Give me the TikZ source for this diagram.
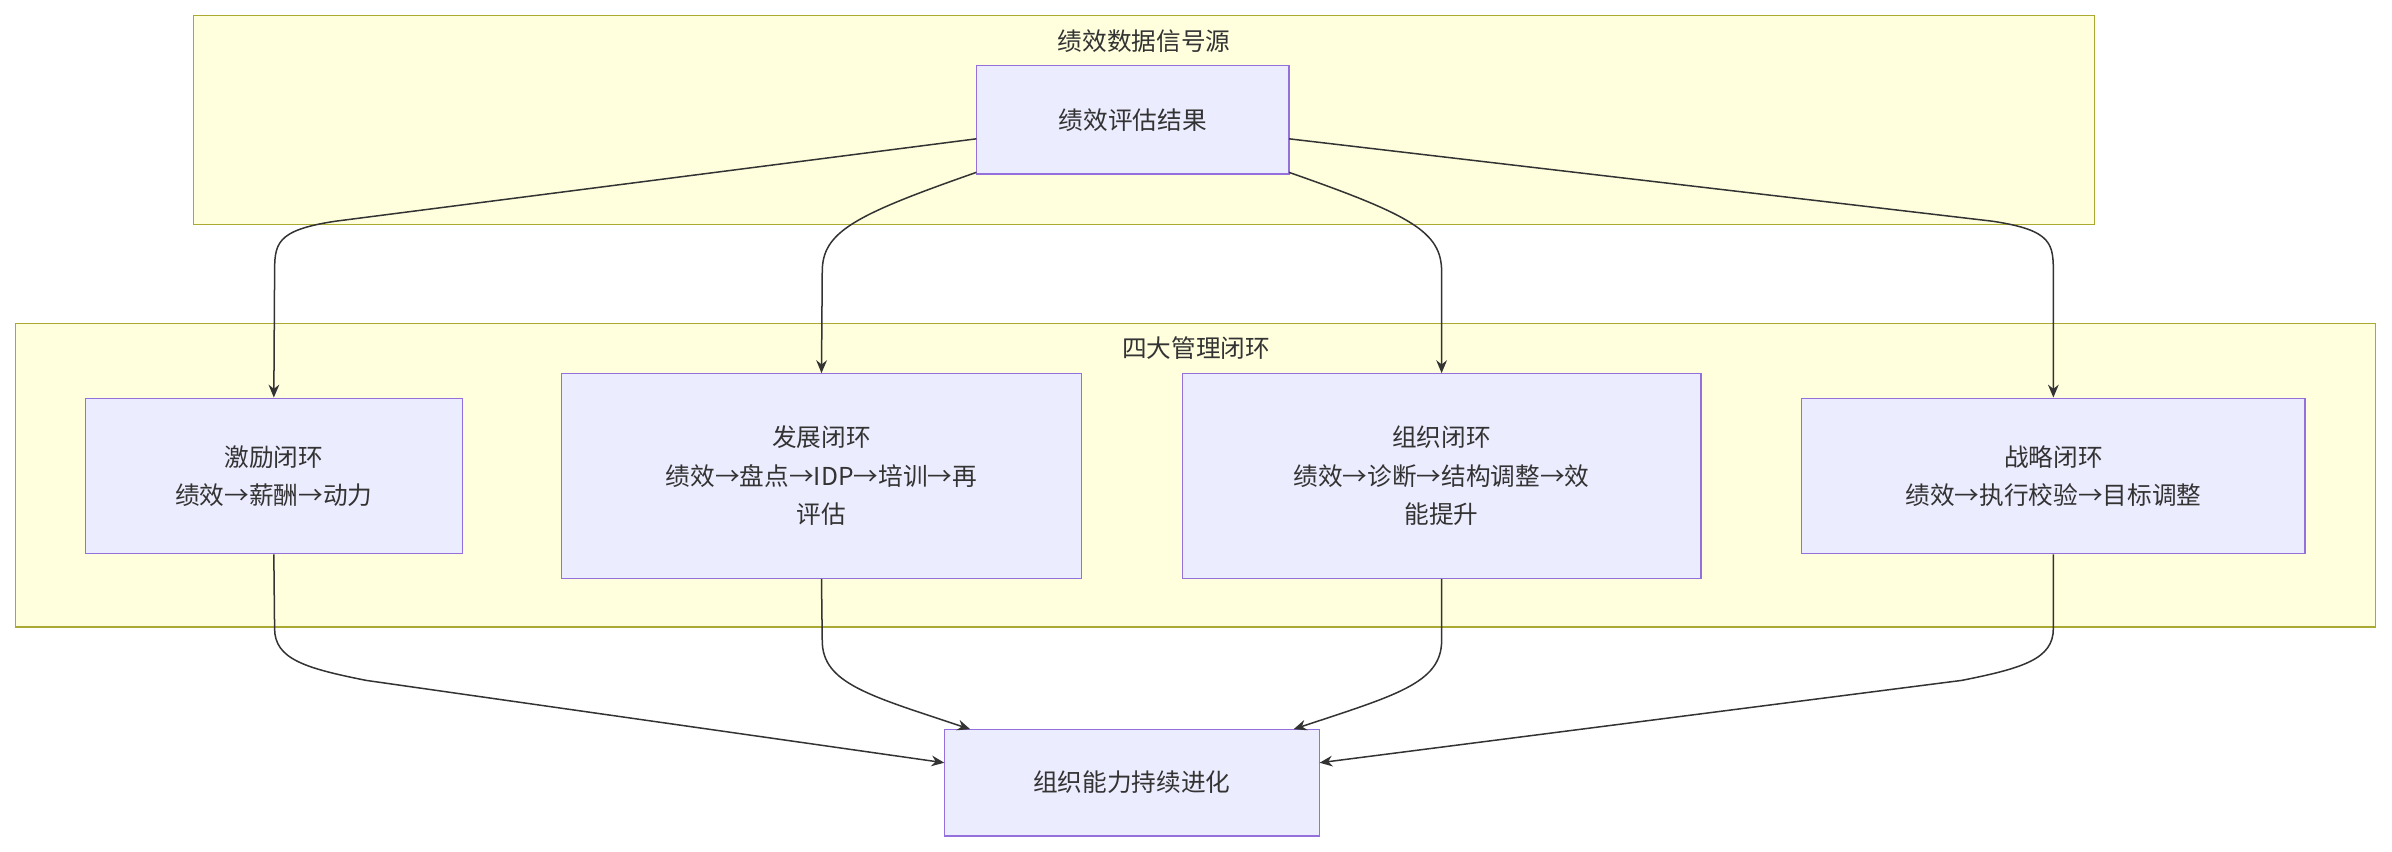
\documentclass[tikz,border=0pt]{standalone}
\usepackage{fontspec}
\setmainfont{Noto Sans CJK SC}
\usetikzlibrary{arrows.meta}
\definecolor{cf}{HTML}{FFFFDE}\definecolor{cs}{HTML}{AAAA33}
\definecolor{nf}{HTML}{ECECFF}\definecolor{ns}{HTML}{9370DB}
\definecolor{ec}{HTML}{333333}
\begin{document}
\begin{tikzpicture}[x=0.05cm,y=-0.05cm,
 cl/.style={draw=cs,fill=cf,line width=1.2pt},
 nd/.style={draw=ns,fill=nf,line width=1.2pt,align=center,font=\fontsize{23}{36}\selectfont,text=ec,inner sep=0},
 tl/.style={font=\fontsize{23}{30}\selectfont,text=ec},
 ed/.style={draw=ec,line width=1.4pt,-{Stealth[length=12pt,width=10pt]}}]
\useasboundingbox (0,0) rectangle (1568,558);
\draw[cl] (127,10) rectangle (1373,147);
\node[tl] (t1) at (750,27) {绩效数据信号源};
\draw[cl] (10,212) rectangle (1557,411);
\node[tl] (t2) at (784,228) {四大管理闭环};
\node[nd,minimum width=10.25cm,minimum height=3.55cm] (src) at (742.5,78.5) {绩效评估结果};
\node[nd,minimum width=12.35cm,minimum height=5.1cm] (jl) at (179.5,312) {激励闭环\\绩效→薪酬→动力};
\node[nd,minimum width=17.05cm,minimum height=6.7cm] (fz) at (538.5,312) {发展闭环\\绩效→盘点→IDP→培训→再\\评估};
\node[nd,minimum width=17cm,minimum height=6.7cm] (zz) at (945,312) {组织闭环\\绩效→诊断→结构调整→效\\能提升};
\node[nd,minimum width=16.5cm,minimum height=5.1cm] (zl) at (1346,312) {战略闭环\\绩效→执行校验→目标调整};
\node[nd,minimum width=12.3cm,minimum height=3.5cm] (out) at (742,513) {组织能力持续进化};
\coordinate (s1) at (640,91); \coordinate (s2) at (640,113);
\coordinate (s3) at (845,113); \coordinate (s4) at (845,91);
\draw[ed] (s1) -- (220,145) .. controls (180,151) and (180,160) .. (180,180) -- (jl.north);
\draw[ed] (s2) .. controls (560,141) and (539,152) .. (539,178) -- (fz.north);
\draw[ed] (s3) .. controls (925,141) and (945,152) .. (945,178) -- (zz.north);
\draw[ed] (s4) -- (1306,145) .. controls (1346,151) and (1346,160) .. (1346,180) -- (zl.north);
\coordinate (o1) at (619,500); \coordinate (o2) at (636,478);
\coordinate (o3) at (848,478); \coordinate (o4) at (865,500);
\draw[ed] (jl.south) -- (180,412) .. controls (180,432) and (200,438) .. (240,446) -- (o1);
\draw[ed] (fz.south) -- (539,420) .. controls (539,448) and (570,456) .. (o2);
\draw[ed] (zz.south) -- (945,420) .. controls (945,448) and (914,456) .. (o3);
\draw[ed] (zl.south) -- (1346,412) .. controls (1346,432) and (1326,438) .. (1286,446) -- (o4);
\end{tikzpicture}
\end{document}
